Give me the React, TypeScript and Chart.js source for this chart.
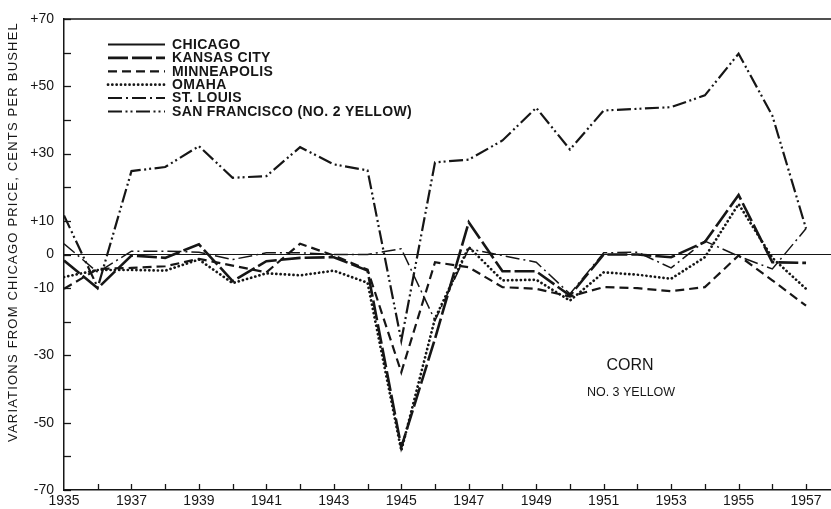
import React, { useEffect, useRef } from 'react';
import { Chart, registerables } from 'chart.js';

Chart.register(...registerables);

// ---- data ----
const years = [1935, 1936, 1937, 1938, 1939, 1940, 1941, 1942, 1943, 1944, 1945, 1946, 1947, 1948, 1949, 1950, 1951, 1952, 1953, 1954, 1955, 1956, 1957];
const chicago = [0, 0, 0, 0, 0, 0, 0, 0, 0, 0, 0, 0, 0, 0, 0, 0, 0, 0, 0, 0, 0, 0, 0];
const kansasCity = [-1.8, -10, -0.3, -1, 3, -7.9, -2, -1, -0.8, -4.8, -57.3, -25, 9.6, -5, -5, -12.2, 0, 0, -0.8, 3.7, 17.7, -2.3, -2.5];
const minneapolis = [-10.2, -4.3, -4, -3.5, -1.3, -3.3, -5.3, 3.2, -0.3, -4.5, -35, -2.3, -3.8, -9.7, -10.2, -12.5, -9.7, -10, -10.9, -9.7, -0.3, -7.7, -15.2];
const omaha = [-6.7, -4.6, -4.6, -4.8, -1.5, -8.5, -5.6, -6.2, -4.8, -8.4, -58.3, -19, 2.2, -7.7, -7.5, -13.7, -5.3, -6, -7.2, -0.8, 15, -1, -10.2];
const stLouis = [3.2, -5.3, 1, 1, 0.7, -1.5, 0.5, 0.5, 0, 0, 1.7, -19.6, 1.7, -0.3, -2.3, -11.7, 0.5, 0.7, -4, 4, -0.5, -4.3, 7.7];
const sanFrancisco = [11.6, -9.8, 24.8, 26, 32.2, 22.8, 23.3, 31.9, 26.8, 25, -25.6, 27.4, 28.2, 33.9, 43.6, 31.2, 42.8, 43.3, 43.8, 47.3, 59.7, 41.3, 7.7];

const seriesNames = ['CHICAGO', 'KANSAS CITY', 'MINNEAPOLIS', 'OMAHA', 'ST. LOUIS', 'SAN FRANCISCO (NO. 2 YELLOW)'];
const xTickLabels = ['1935', '1937', '1939', '1941', '1943', '1945', '1947', '1949', '1951', '1953', '1955', '1957'];
const yTickMarks = [-70, -60, -50, -40, -30, -20, -10, 0, 10, 20, 30, 40, 50, 60, 70];
const yTickValues = [70, 50, 30, 10, 0, -10, -30, -50, -70];
const yTickLabels = ['+70', '+50', '+30', '+10', '0', '-10', '-30', '-50', '-70'];
const yAxisTitle = 'VARIATIONS FROM CHICAGO PRICE, CENTS PER BUSHEL';
const noteTitle = 'CORN';
const noteSub = 'NO. 3 YELLOW';

const INK = '#161616';
const FONT = '"Liberation Sans", Arial, sans-serif';

const toPts = (vals: number[]) => vals.map((v, i) => ({ x: years[i], y: v }));

const styles = [
  { width: 1.2, dash: [] as number[], cap: 'butt' },
  { width: 2.6, dash: [20, 4], cap: 'butt' },
  { width: 2.2, dash: [9, 5], cap: 'butt' },
  { width: 2.7, dash: [0.1, 4.2], cap: 'round' },
  { width: 1.5, dash: [14, 4, 2, 4], cap: 'butt' },
  { width: 2.2, dash: [14, 3.5, 2, 3, 2, 3.5], cap: 'butt' },
];

const decorPlugin = {
  id: 'decor',
  beforeDatasetsDraw(chart: any) {
    const { ctx, chartArea, scales } = chart;
    const y0 = scales.y.getPixelForValue(0);
    ctx.save();
    ctx.strokeStyle = INK;
    ctx.lineWidth = 1.2;
    ctx.beginPath();
    ctx.moveTo(chartArea.left, y0);
    ctx.lineTo(chartArea.right, y0);
    ctx.stroke();
    ctx.restore();
  },
  afterDraw(chart: any) {
    const { ctx, chartArea, scales } = chart;
    const xs = scales.x;
    const ys = scales.y;
    ctx.save();
    ctx.strokeStyle = INK;
    ctx.fillStyle = INK;
    // top frame
    ctx.lineWidth = 1.5;
    ctx.beginPath();
    ctx.moveTo(chartArea.left, chartArea.top);
    ctx.lineTo(chartArea.right, chartArea.top);
    ctx.stroke();
    // y ticks inward
    ctx.lineWidth = 1.3;
    yTickMarks.forEach((v) => {
      const y = Math.round(ys.getPixelForValue(v)) + 0.5;
      ctx.beginPath();
      ctx.moveTo(chartArea.left, y);
      ctx.lineTo(chartArea.left + 7, y);
      ctx.stroke();
    });
    // x ticks inward
    years.forEach((yr) => {
      if (yr === years[0]) return;
      const x = Math.round(xs.getPixelForValue(yr)) + 0.5;
      ctx.beginPath();
      ctx.moveTo(x, chartArea.bottom);
      ctx.lineTo(x, chartArea.bottom - 6);
      ctx.stroke();
    });
    // legend
    const ds = chart.data.datasets;
    ctx.textBaseline = 'middle';
    ctx.textAlign = 'left';
    ctx.font = `bold 14px ${FONT}`;
    try { (ctx as any).letterSpacing = '0.35px'; } catch (e) {}
    seriesNames.forEach((name, i) => {
      const y = 44.5 + i * 13.4;
      const d = ds[i];
      ctx.save();
      ctx.lineWidth = Math.max(2, d.borderWidth);
      ctx.setLineDash(d.borderDash || []);
      ctx.lineCap = d.borderCapStyle;
      ctx.beginPath();
      ctx.moveTo(108, y);
      ctx.lineTo(165, y);
      ctx.stroke();
      ctx.restore();
      ctx.fillText(name, 172, y + 0.5);
    });
    try { (ctx as any).letterSpacing = '0px'; } catch (e) {}
    // annotation
    ctx.textAlign = 'center';
    ctx.font = `16px ${FONT}`;
    ctx.fillText(noteTitle, 630, 366);
    ctx.font = `12.5px ${FONT}`;
    ctx.fillText(noteSub, 631, 393);
    // y axis title
    ctx.save();
    ctx.translate(13, 232);
    ctx.rotate(-Math.PI / 2);
    ctx.font = `13px ${FONT}`;
    try { (ctx as any).letterSpacing = '1.2px'; } catch (e) {}
    ctx.textAlign = 'center';
    ctx.fillText(yAxisTitle, 0, 0);
    ctx.restore();
    ctx.restore();
  },
};

export default function App() {
  const ref = useRef<HTMLCanvasElement | null>(null);
  useEffect(() => {
    if (!ref.current) return;
    const seriesData = [chicago, kansasCity, minneapolis, omaha, stLouis, sanFrancisco];
    const chart = new Chart(ref.current, {
      type: 'line',
      data: {
        datasets: seriesData.map((vals, i) => ({
          label: seriesNames[i],
          data: toPts(vals),
          borderColor: INK,
          borderWidth: styles[i].width,
          borderDash: styles[i].dash,
          borderCapStyle: styles[i].cap as any,
          borderJoinStyle: 'miter' as any,
          pointRadius: 0,
          tension: 0,
          fill: false,
        })),
      },
      options: {
        responsive: false,
        animation: false,
        devicePixelRatio: 1,
        layout: { padding: { top: 19, right: 0, left: 0, bottom: 0 } },
        plugins: { legend: { display: false }, tooltip: { enabled: false } },
        scales: {
          x: {
            type: 'linear',
            min: 1935,
            max: 1957.74,
            afterFit: (s: any) => { s.height = 19; },
            afterBuildTicks: (s: any) => { s.ticks = years.map((v) => ({ value: v })); },
            grid: { display: false, drawTicks: false },
            border: { display: true, color: INK, width: 1.5 },
            ticks: {
              autoSkip: false,
              maxRotation: 0,
              padding: 3,
              color: INK,
              font: { family: FONT, size: 14 },
              callback: (v: any) => (xTickLabels.includes(String(v)) ? String(v) : ''),
            },
          },
          y: {
            min: -70,
            max: 70,
            afterFit: (s: any) => { s.width = 64; },
            afterBuildTicks: (s: any) => { s.ticks = yTickMarks.map((v) => ({ value: v })); },
            grid: { display: false, drawTicks: false },
            border: { display: true, color: INK, width: 1.5 },
            ticks: {
              padding: 10,
              color: INK,
              font: { family: FONT, size: 14 },
              callback: (v: any) => {
                const k = yTickValues.indexOf(Number(v));
                return k >= 0 ? yTickLabels[k] : '';
              },
            },
          },
        },
      },
      plugins: [decorPlugin],
    });
    return () => chart.destroy();
  }, []);
  return (
    <div style={{ position: 'fixed', left: 0, top: 0, width: 831, height: 509, background: '#fff' }}>
      <canvas ref={ref} width={831} height={509} />
    </div>
  );
}
